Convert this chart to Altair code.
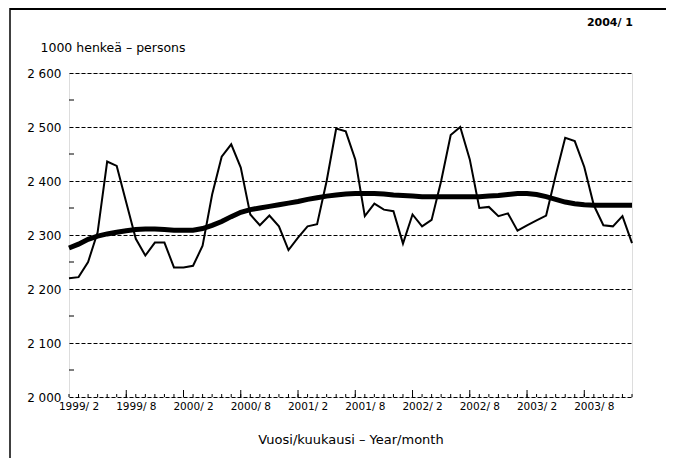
import altair as alt
import pandas as pd

# month index 0 = 1999/1 ... 59 = 2003/12
months = list(range(60))
employed = [2220, 2222, 2250, 2305, 2436, 2428, 2360, 2293, 2262, 2286,
            2286, 2240, 2240, 2243, 2280, 2375, 2445, 2468, 2425, 2338,
            2318, 2336, 2316, 2272, 2295, 2316, 2320, 2400, 2497, 2492,
            2440, 2335, 2358, 2347, 2344, 2284, 2338, 2316, 2328, 2400,
            2485, 2500, 2440, 2350, 2352, 2335, 2340, 2308, 2318, 2327,
            2336, 2410, 2480, 2474, 2426, 2355, 2318, 2316, 2335, 2285]
trend = [2276, 2283, 2292, 2298, 2302, 2305, 2308, 2310, 2311, 2311,
         2310, 2309, 2309, 2309, 2312, 2318, 2325, 2334, 2342, 2347,
         2350, 2353, 2356, 2359, 2362, 2366, 2369, 2372, 2374, 2376,
         2377, 2377, 2377, 2376, 2374, 2373, 2372, 2371, 2371, 2371,
         2371, 2371, 2371, 2371, 2372, 2373, 2375, 2377, 2377, 2375,
         2371, 2366, 2361, 2358, 2356, 2355, 2355, 2355, 2355, 2355]
label_pos = [1, 7, 13, 19, 25, 31, 37, 43, 49, 55]
tick_labels = ["1999/ 2", "1999/ 8", "2000/ 2", "2000/ 8", "2001/ 2",
               "2001/ 8", "2002/ 2", "2002/ 8", "2003/ 2", "2003/ 8"]
major_ticks = [6, 12, 18, 24, 30, 36, 42, 48, 54]
y_minor = [2050, 2150, 2250, 2350, 2450, 2550]
y_values = [2000, 2100, 2200, 2300, 2400, 2500, 2600]

W, H = 563, 324
FONT = "DejaVu Sans"

df = pd.DataFrame({"m": months, "v": employed, "t": trend})

label_expr = ("[" + ",".join("'%s'" % s for s in tick_labels) + "][indexof(["
              + ",".join(str(p) for p in label_pos) + "], datum.value)]")

xscale = alt.Scale(domain=[0, 59], nice=False, zero=False)
yscale = alt.Scale(domain=[2000, 2600], nice=False, zero=False)

xaxis = alt.Axis(values=label_pos, labelExpr=label_expr, grid=False, ticks=False,
                 domain=False, labelFont=FONT, labelFontSize=10.5, labelColor="black",
                 labelPadding=4, labelAngle=0, labelOverlap=False,
                 title="Vuosi/kuukausi – Year/month", titleFont=FONT, titleFontSize=13,
                 titleFontWeight="normal", titleColor="black", titlePadding=22)
yaxis = alt.Axis(values=y_values, grid=True, gridDash=[4, 2], gridColor="black",
                 gridWidth=1, gridOpacity=1, ticks=False, domain=False,
                 labelExpr="replace(format(datum.value, ','), ',', ' ')",
                 labelFont=FONT, labelFontSize=12, labelColor="black", labelPadding=8,
                 title="1000 henkeä – persons", titleAngle=0, titleAlign="left",
                 titleBaseline="middle", titleX=-29, titleY=-26, titleFont=FONT,
                 titleFontSize=12.5, titleFontWeight="normal", titleColor="black")

base = alt.Chart(df)
thin = base.mark_line(color="black", strokeWidth=2).encode(
    x=alt.X("m:Q", scale=xscale, axis=xaxis),
    y=alt.Y("v:Q", scale=yscale, axis=yaxis),
)
thick = base.mark_line(color="black", strokeWidth=5).encode(
    x=alt.X("m:Q", scale=xscale),
    y=alt.Y("t:Q", scale=yscale),
)

minor = alt.Chart(pd.DataFrame({"m": months})).mark_rule(color="black", strokeWidth=1).encode(
    x=alt.X("m:Q", scale=xscale), y=alt.value(H), y2=alt.value(H - 3))
major = alt.Chart(pd.DataFrame({"m": major_ticks})).mark_rule(color="black", strokeWidth=1).encode(
    x=alt.X("m:Q", scale=xscale), y=alt.value(H), y2=alt.value(H - 7))
yminor = alt.Chart(pd.DataFrame({"y": y_minor})).mark_rule(color="black", strokeWidth=1).encode(
    y=alt.Y("y:Q", scale=yscale), x=alt.value(0), x2=alt.value(5))

stamp = alt.Chart(pd.DataFrame({"s": ["2004/ 1"]})).mark_text(
    font=FONT, fontSize=11, fontWeight="bold", align="right", baseline="middle",
    color="black").encode(text="s:N", x=alt.value(W + 1), y=alt.value(-50))

# outer frame of the figure
fl = alt.Chart(pd.DataFrame({"k": [0]})).mark_rule(color="black", strokeWidth=1.5).encode(
    x=alt.value(-59), y=alt.value(-65), y2=alt.value(400))
fr = alt.Chart(pd.DataFrame({"k": [0]})).mark_rule(color="black", strokeWidth=1.5).encode(
    x=alt.value(600), y=alt.value(-65), y2=alt.value(400))
ft = alt.Chart(pd.DataFrame({"k": [0]})).mark_rule(color="black", strokeWidth=2).encode(
    x=alt.value(-59), x2=alt.value(600), y=alt.value(-64))

chart = alt.layer(thin, thick, minor, major, yminor, stamp, fl, fr, ft).properties(
    width=W, height=H, autosize="none",
    padding={"left": 61, "top": 65, "right": 34, "bottom": 61},
).configure_view(stroke="black", strokeWidth=2).configure(background="white")

chart.save("out.html", embed_options={"renderer": "svg", "actions": False})
